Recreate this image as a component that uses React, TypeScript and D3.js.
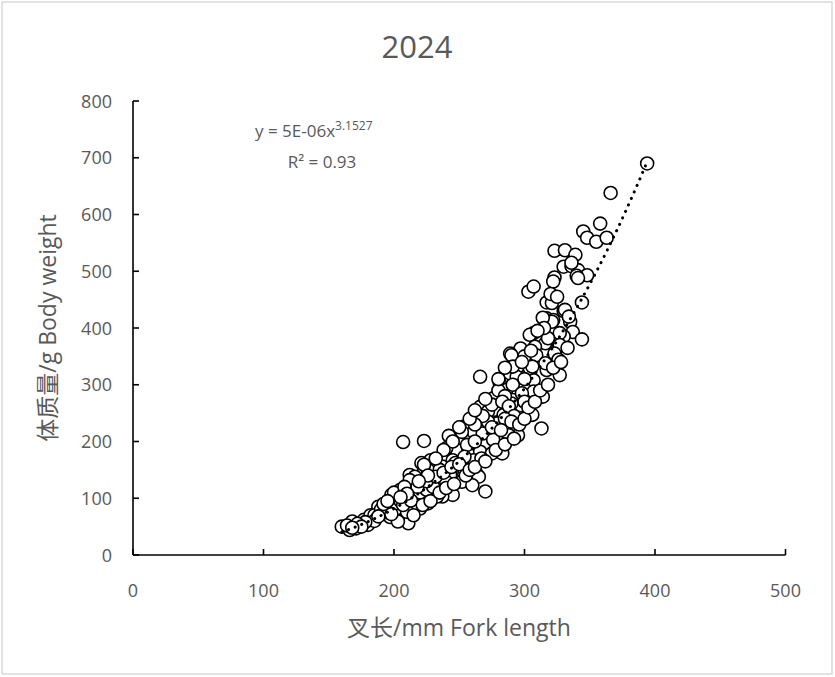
import React from "react";
import * as d3 from "d3";

const forkLength: number[] = [
  394, 366, 358, 345, 348, 355, 363, 323, 331, 339, 330, 336, 341, 348, 323, 340, 303, 307, 344, 317,
  321, 330, 317, 322, 335, 337, 344, 330, 307, 316, 326, 297, 289, 304, 317, 327, 295, 289, 307, 266,
  281, 286, 314, 276, 291, 297, 266, 306, 277, 322, 321, 327, 304, 294, 307, 290, 272, 284, 279, 294,
  313, 253, 261, 268, 276, 295, 242, 248, 257, 266, 275, 237, 228, 221, 245, 261, 231, 223, 212, 240,
  253, 263, 207, 223, 252, 288, 256, 262, 283, 247, 254, 267, 226, 237, 243, 254, 265, 216, 221, 212,
  231, 240, 252, 260, 270, 245, 237, 229, 205, 203, 211, 220, 226, 203, 211, 202, 160, 168, 171, 166,
  177, 180, 182, 188, 192, 197, 203, 198, 212, 212, 223, 229, 233, 235, 240, 196, 217, 210, 341, 336,
  331, 314, 334, 318, 304, 308, 327, 290, 300, 309, 323, 316, 326, 291, 306, 280, 285, 291, 275, 283,
  300, 298, 288, 292, 300, 285, 272, 268, 262, 258, 275, 282, 290, 185, 190, 195, 200, 205, 210, 215,
  220, 225, 230, 198, 207, 213, 218, 225, 232, 238, 244, 250, 185, 178, 172, 192, 200, 208,
  215, 222, 228, 235, 240, 246, 255, 258, 262, 270, 278, 285, 292, 296, 300, 303, 308, 312, 318, 322,
  328, 333, 320, 325, 315, 310, 305, 298, 285, 280, 270, 262, 250, 245, 238, 232, 226, 219, 210, 205,
  195, 188, 175, 164, 168,
];
const bodyWeight: number[] = [
  690, 638, 584, 570, 559, 552, 559, 536, 537, 529, 508, 509, 502, 493, 489, 492, 464, 473, 445, 445,
  444, 430, 417, 414, 411, 393, 380, 385, 391, 373, 367, 364, 355, 347, 326, 317, 332, 320, 308, 314,
  303, 291, 279, 276, 273, 264, 261, 247, 256, 482, 411, 391, 329, 314, 288, 267, 253, 247, 232, 226,
  223, 226, 217, 214, 203, 211, 210, 185, 185, 182, 179, 173, 167, 162, 167, 167, 153, 147, 141, 150,
  147, 144, 199, 201, 217, 211, 194, 200, 179, 162, 173, 170, 150, 156, 141, 150, 138, 138, 115, 126,
  126, 129, 129, 123, 112, 106, 103, 100, 115, 97, 79, 82, 91, 62, 56, 82, 50, 59, 47, 44,
  62, 53, 70, 85, 76, 67, 59, 106, 115, 132, 159, 126, 103, 150, 188, 88, 91, 76, 488, 515,
  432, 418, 420, 382, 388, 367, 370, 352, 350, 352, 355, 338, 344, 332, 332, 290, 280, 300, 265, 270,
  310, 285, 262, 245, 270, 240, 235, 245, 230, 240, 225, 220, 235, 70, 80, 75, 90, 95, 100, 105,
  110, 115, 120, 72, 88, 96, 120, 130, 138, 145, 155, 160, 60, 58, 55, 90, 110, 120,
  70, 88, 95, 110, 118, 125, 140, 150, 155, 165, 185, 195, 205, 230, 240, 260, 270, 290, 300, 330,
  340, 365, 460, 455, 400, 395, 360, 340, 330, 310, 275, 255, 225, 200, 185, 170, 140, 130, 108, 102,
  95, 68, 50, 52, 48,
];

const xTicks = [0, 100, 200, 300, 400, 500];
const yTicks = [0, 100, 200, 300, 400, 500, 600, 700, 800];
const fitA = 4.55e-6;
const fitB = 3.1527;
const titleText = "2024";
const xLabel = "叉长/mm Fork length";
const yLabel = "体质量/g Body weight";

const W = 835;
const H = 677;
const font = "'Open Sans', 'Noto Sans', 'Noto Sans CJK SC', sans-serif";
const textColor = "#595959";

export default function App() {
  const x = d3.scaleLinear().domain([0, 500]).range([133, 785.5]);
  const y = d3.scaleLinear().domain([0, 800]).range([555, 101]);

  const xMin = d3.min(forkLength) as number;
  const xMax = d3.max(forkLength) as number;
  const fitPts = d3.range(0, 201).map((i) => {
    const xv = xMin + ((xMax - xMin) * i) / 200;
    return [xv, fitA * Math.pow(xv, fitB)] as [number, number];
  });
  const fitPath = d3
    .line<[number, number]>()
    .x((d) => x(d[0]))
    .y((d) => y(d[1]))(fitPts);

  const pts = forkLength.map((v, i) => ({ fl: v, bw: bodyWeight[i] }));

  return (
    <svg
      width={W}
      height={H}
      style={{ position: "absolute", left: 0, top: 0, background: "#fff" }}
      fontFamily={font}
    >
      <rect x={2} y={2} width={W - 5} height={H - 5} fill="#fff" stroke="#d9d9d9" strokeWidth={1.5} />
      <text x={417} y={58} textAnchor="middle" fontSize={31} fill={textColor}>
        {titleText}
      </text>

      {/* axes */}
      <line x1={x(0)} x2={x(500)} y1={y(0)} y2={y(0)} stroke="#000" strokeWidth={1.6} />
      <line x1={x(0)} x2={x(0)} y1={y(0)} y2={y(800)} stroke="#000" strokeWidth={1.6} />
      {xTicks.map((t) => (
        <g key={"xt" + t}>
          <line x1={x(t)} x2={x(t)} y1={y(0)} y2={y(0) - 6} stroke="#000" strokeWidth={1.6} />
          <text x={x(t)} y={597} textAnchor="middle" fontSize={18} fill={textColor}>
            {t}
          </text>
        </g>
      ))}
      {yTicks.map((t) => (
        <g key={"yt" + t}>
          <line x1={x(0)} x2={x(0) + 6} y1={y(t)} y2={y(t)} stroke="#000" strokeWidth={1.6} />
          <text x={112} y={y(t) + 6.5} textAnchor="end" fontSize={18} fill={textColor}>
            {t}
          </text>
        </g>
      ))}

      {/* axis titles */}
      <text x={459} y={636} textAnchor="middle" fontSize={23} fill={textColor}>
        {xLabel}
      </text>
      <text
        transform={`translate(56,${(y(0) + y(800)) / 2}) rotate(-90)`}
        textAnchor="middle"
        fontSize={23}
        fill={textColor}
      >
        {yLabel}
      </text>

      {/* points */}
      {pts.map((p, i) => (
        <circle key={i} cx={x(p.fl)} cy={y(p.bw)} r={6.5} fill="#fff" stroke="#000" strokeWidth={1.6} />
      ))}

      {/* trendline */}
      <path
        d={fitPath || ""}
        fill="none"
        stroke="#000"
        strokeWidth={3}
        strokeLinecap="round"
        strokeDasharray="0.1 7"
      />

      {/* equation */}
      <text x={255} y={137} fontSize={17} fill={textColor}>
        y = 5E-06x
        <tspan dy={-7} fontSize={12}>
          3.1527
        </tspan>
      </text>
      <text x={322} y={168} textAnchor="middle" fontSize={17} fill={textColor}>
        R² = 0.93
      </text>
    </svg>
  );
}
